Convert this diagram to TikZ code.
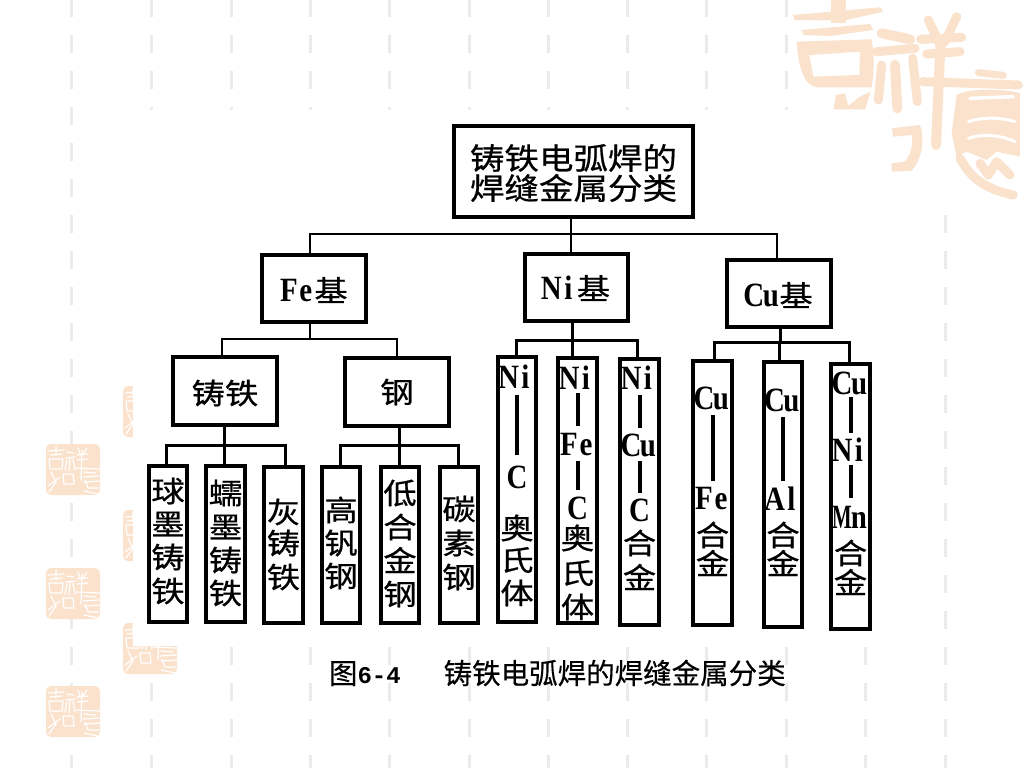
\documentclass[tikz,border=0pt]{standalone}
\usepackage{fontspec}
\setmainfont{Liberation Serif}
\newfontfamily\cjkfam[FakeStretch=1.15,FakeBold=0.6]{Noto Sans CJK SC}
\newfontfamily\capfam[FakeBold=0.3]{Noto Sans CJK SC}
\newfontfamily\latfam[FakeStretch=0.85]{Liberation Serif Bold}
\newfontfamily\monofam{Liberation Mono Bold}
\newcommand\zh[1]{{\cjkfam\fontsize{29}{29}\selectfont #1}}
\newcommand\zhb[1]{{\cjkfam\fontsize{30}{30}\selectfont #1}}
\newcommand\latc[1]{\hbox to 17pt{\hss #1\hss}}
\newcommand\latn[2]{{\latfam\fontsize{34}{34}\selectfont\latc{#1}\latc{#2}}}
\newcommand\lato[1]{{\latfam\fontsize{34}{34}\selectfont #1}}
\newdimen\curY \newdimen\bxW
\newcommand\tline[2]{\vskip\dimexpr #1pt-\curY\relax\global\curY=#1pt
  \vbox to 0pt{\vss\hbox to\bxW{\hss#2\hss}\vss}}
\newcommand\tbar[2]{\vskip\dimexpr #1pt-\curY\relax\global\curY=#2pt
  \hbox to\bxW{\hss\vrule width 4pt height \dimexpr #2pt-#1pt\relax depth 0pt\hss}}
\newcommand\makebx[6]{%
  \pgfmathsetmacro\bxcx{(#2+#3)/2}%
  \pgfmathsetmacro\bxcy{(#4+#5)/2}%
  \pgfmathsetmacro\bxwd{#3-#2-4}%
  \pgfmathsetmacro\bxht{#5-#4-4}%
  \pgfmathsetmacro\bxtop{#4+2}%
  \global\bxW=\bxwd pt \global\curY=\bxtop pt
  \node[boxnode] (#1) at (\bxcx,\bxcy) {\vbox to \bxht pt{\offinterlineskip #6\vss}};%
}
\newcommand\branch[5]{%
  \coordinate (bus-#1) at (#2,#3);
  \draw[#5] (bus-#1 |- #1.south) -- (bus-#1);
  \foreach \c/\x in {#4} {\draw[#5] (bus-#1) -- (\x,#3) -- (\x,#3 |- \c.north);}
}
\definecolor{sealc}{HTML}{FBE2CD}
\definecolor{dashc}{HTML}{EBEBEB}
\tikzset{
  boxnode/.style={draw=black,line width=4pt,fill=white,inner sep=0pt,outer sep=0pt,rectangle},
  connthin/.style={draw=black,line width=2.4pt},
  connthick/.style={draw=black,line width=3pt},
  dashmark/.style={draw=dashc,line width=3pt},
  sealstroke/.style={draw=white,line width=1.2pt,line cap=round,line join=round},
  bigstroke/.style={draw=sealc,line width=11pt,line cap=round,line join=round},
  captionnode/.style={inner sep=0pt,outer sep=0pt,anchor=west}
}
\newcommand\sealmark[2]{%
  \begin{scope}[shift={(#1,#2)}]
    \fill[sealc,rounded corners=5pt] (0,0) rectangle (54,51);
    \draw[sealstroke] (2,7)--(18,6) (10,2)--(10,12) (4,11)--(16,10) (3,15)--(17,15)--(16,25)--(4,25)--cycle;
    \draw[sealstroke] (21,8)--(28,9) (20,14)--(29,13) (24,14)--(23,27) (21,16)--(19,26) (27,15)--(29,26);
    \draw[sealstroke] (32,4)--(34,10) (41,4)--(37,10) (31,11)--(42,10) (31,16)--(42,15) (30,24)--(54,25) (36,6)--(35,36);
    \draw[sealstroke] (5,28)--(10,38)--(3,48) (14,33)--(2,42) (17,30)--(27,30)--(28,40)--(18,40)--cycle;
    \draw[sealstroke] (38,28)--(50,29) (37,33)--(53,32) (38,38)--(54,37) (39,36)--(42,44)--(53,44) (38,47)--(52,50);
  \end{scope}}
\begin{document}
\begin{tikzpicture}[x=1pt,y=-1pt]
\useasboundingbox (0,0) rectangle (1024,768);
\fill[white] (0,0) rectangle (1024,768);
% background dashes
\foreach \k in {0,...,21} \draw[dashmark] (71,{36*\k-1}) -- (71,{min(36*\k+17,768)});
\foreach \cx in {151,231,310,389,469,548,627,706,786,865,945}
  \foreach \k in {0,...,21} \draw[dashmark] (\cx,{36*\k-1}) -- (\cx,{min(36*\k+17,768)});
% seals
\sealmark{46}{444}
\sealmark{46}{568}
\sealmark{46}{686}
\sealmark{123}{386}
\sealmark{123}{510}
\sealmark{123}{623}
% masks
\fill[white] (790,-1) rectangle (1025,214);
\fill[white] (133,110) rectangle (888,646);
% large corner mark
\begin{scope}[shift={(780,0)},x=0.3333pt,y=-0.3333pt]
  \fill[sealc] (152,-5) rectangle (198,70);
  \fill[sealc] (38,45) -- (300,22) -- (310,35) -- (190,62) -- (45,60) -- cycle;
  \fill[sealc] (65,90) -- (270,72) -- (280,90) -- (150,108) -- (70,105) -- cycle;
  \fill[sealc,even odd rule] (50,125) -- (275,118) .. controls (285,180) and (280,230) .. (275,262) -- (110,262) .. controls (70,255) and (55,200) .. (50,125) -- cycle
     (88,165) -- (240,155) -- (238,225) -- (100,230) -- cycle;
  \fill[sealc] (160,328) -- (168,285) -- (195,280) -- (205,318) -- (240,290) -- (272,275) -- (255,328) -- cycle;
  \draw[bigstroke,line width=10pt] (305,100) -- (390,118);
  \draw[bigstroke,line width=9pt] (290,155) -- (405,145);
  \draw[bigstroke,line width=10pt] (345,195) -- (352,325);
  \draw[bigstroke,line width=9pt] (305,195) -- (295,300);
  \draw[bigstroke,line width=9pt] (398,175) -- (412,305);
  \draw[bigstroke,line width=9pt] (445,60) -- (478,130);
  \draw[bigstroke,line width=9pt] (530,50) -- (495,125);
  \draw[bigstroke,line width=9pt] (422,118) -- (545,112);
  \draw[bigstroke,line width=9pt] (440,162) -- (540,155);
  \draw[bigstroke,line width=9pt] (428,245) -- (715,255);
  \draw[bigstroke,line width=10pt] (482,120) -- (468,435);
  \fill[sealc] (335,385) -- (420,375) .. controls (435,420) and (425,480) .. (395,512) -- (335,515) -- (335,490) -- (375,485) .. controls (395,460) and (400,430) .. (395,405) -- (340,410) -- cycle;
  \draw[bigstroke,line width=7pt] (595,218) -- (670,226);
  \fill[sealc] (530,285) .. controls (560,265) and (680,265) .. (720,280) -- (720,470) -- (650,455) -- (620,480) -- (560,455) -- (530,470) -- (515,400) -- cycle;
  \draw[draw=white,line width=3.5pt,line cap=round] (570,295) -- (700,290);
  \draw[draw=white,line width=3pt,line cap=round] (565,365) .. controls (610,350) and (660,352) .. (705,365);
  \draw[draw=white,line width=3pt,line cap=round] (565,415) .. controls (610,400) and (660,405) .. (705,425);
  \draw[bigstroke,line width=9pt] (540,475) .. controls (565,520) and (600,565) .. (700,585);
  \draw[bigstroke,line width=9pt] (600,490) -- (625,525) -- (650,485) -- (690,525);
\end{scope}
% nodes
\makebx{root}{452}{695}{124}{219}{\tline{158}{\zhb{铸铁电弧焊的}}\tline{188}{\zhb{焊缝金属分类}}}
\makebx{fe}{260}{368}{253}{324}{\tline{290}{\latn{F}{e}\zh{基}}}
\makebx{ni}{523}{630}{252}{323}{\tline{288}{\latn{N}{i}\zh{基}}}
\makebx{cu}{725}{833}{258}{329}{\tline{295}{\latn{C}{u}\zh{基}}}
\makebx{zt}{171}{279}{355}{427}{\tline{393}{\zh{铸铁}}}
\makebx{gang}{343}{451}{356}{428}{\tline{392}{\zh{钢}}}
\makebx{a1}{147}{189}{464}{624}{\tline{491}{\zh{球}}\tline{524}{\zh{墨}}\tline{557}{\zh{铸}}\tline{591}{\zh{铁}}}
\makebx{a2}{204}{247}{464}{624}{\tline{493}{\zh{蠕}}\tline{527}{\zh{墨}}\tline{560}{\zh{铸}}\tline{593}{\zh{铁}}}
\makebx{a3}{262}{305}{465}{625}{\tline{512}{\zh{灰}}\tline{543}{\zh{铸}}\tline{577}{\zh{铁}}}
\makebx{b1}{320}{362}{465}{625}{\tline{510}{\zh{高}}\tline{543}{\zh{钒}}\tline{576}{\zh{钢}}}
\makebx{b2}{379}{421}{465}{625}{\tline{493}{\zh{低}}\tline{527}{\zh{合}}\tline{560}{\zh{金}}\tline{594}{\zh{钢}}}
\makebx{b3}{438}{480}{465}{625}{\tline{509}{\zh{碳}}\tline{543}{\zh{素}}\tline{577}{\zh{钢}}}
\makebx{c1}{496}{538}{355}{624}{\tline{377}{\latn{N}{i}}\tbar{395}{455}\tline{477}{\lato{C}}\tline{528}{\zh{奥}}\tline{560}{\zh{氏}}\tline{593}{\zh{体}}}
\makebx{c2}{556}{599}{356}{625}{\tline{378}{\latn{N}{i}}\tbar{393}{426}\tline{445}{\latn{F}{e}}\tbar{461}{490}\tline{508}{\lato{C}}\tline{538}{\zh{奥}}\tline{573}{\zh{氏}}\tline{607}{\zh{体}}}
\makebx{c3}{618}{661}{357}{627}{\tline{378}{\latn{N}{i}}\tbar{395}{428}\tline{445}{\latn{C}{u}}\tbar{461}{493}\tline{510}{\lato{C}}\tline{543}{\zh{合}}\tline{577}{\zh{金}}}
\makebx{d1}{691}{734}{359}{627}{\tline{398}{\latn{C}{u}}\tbar{415}{481}\tline{499}{\latn{F}{e}}\tline{535}{\zh{合}}\tline{563}{\zh{金}}}
\makebx{d2}{762}{804}{360}{629}{\tline{400}{\latn{C}{u}}\tbar{417}{481}\tline{499}{\latn{A}{l}}\tline{535}{\zh{合}}\tline{563}{\zh{金}}}
\makebx{d3}{829}{872}{362}{631}{\tline{383}{\latn{C}{u}}\tbar{397}{433}\tline{450}{\latn{N}{i}}\tbar{465}{498}\tline{517}{\latn{\scalebox{.72}[1]{M}}{n}}\tline{553}{\zh{合}}\tline{582}{\zh{金}}}
% connectors
\branch{root}{571}{234}{fe/310,ni/571,cu/777}{connthin}
\branch{fe}{310}{339}{zt/222,gang/397}{connthin}
\branch{ni}{572}{340}{c1/516,c2/572,c3/637}{connthick}
\branch{cu}{780}{342}{d1/714,d2/779,d3/849}{connthick}
\branch{zt}{224}{445}{a1/166,a2/224,a3/285}{connthick}
\branch{gang}{399}{445}{b1/340,b2/399,b3/458}{connthick}
% caption
\node[captionnode] (cap) at (329,673) {{\capfam\fontsize{28.5}{28.5}\selectfont 图}{\monofam\fontsize{24}{24}\selectfont 6-4}\hspace{43pt}{\capfam\fontsize{28.5}{28.5}\selectfont 铸铁电弧焊的焊缝金属分类}};
\end{tikzpicture}
\end{document}
